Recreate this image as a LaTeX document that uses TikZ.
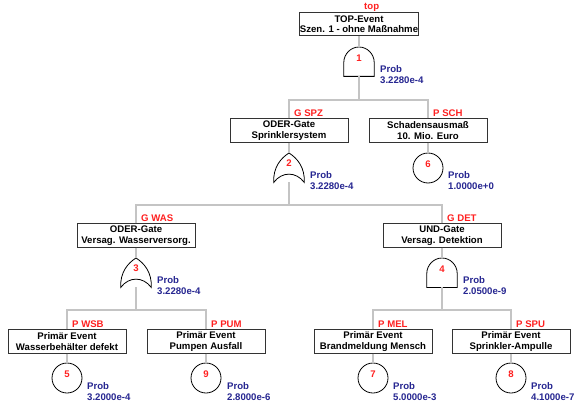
\documentclass[tikz,border=0pt]{standalone}
\usepackage{fontspec}
\setmainfont{Liberation Sans}
\definecolor{lblred}{RGB}{255,32,32}
\definecolor{prbblue}{RGB}{38,38,145}
\definecolor{wiregray}{RGB}{196,196,196}
\tikzset{
  ev/.style={draw=black!80, line width=0.8pt, fill=white, minimum width=118pt,
    minimum height=23.5pt, inner sep=0pt, align=center,
    font=\fontsize{9.6}{10.5}\selectfont\bfseries},
  lab/.style={text=lblred, anchor=base west, inner sep=0pt,
    font=\fontsize{9.6}{10.5}\selectfont\bfseries},
  prob/.style={text=prbblue, anchor=north west, align=left, inner sep=0pt,
    font=\fontsize{9.6}{11.2}\selectfont\bfseries},
  num/.style={text=lblred, inner sep=0pt,
    font=\fontsize{9.6}{10.5}\selectfont\bfseries},
  wire/.style={draw=wiregray, line width=1.4pt},
  gatebox/.style={minimum width=30pt, minimum height=29pt, inner sep=0pt},
  gateline/.style={draw=black, line width=0.8pt, fill=white},
  primcirc/.style={circle, draw=black, line width=0.8pt, fill=white,
    minimum size=30pt, inner sep=0pt},
}
\newcommand\andgate[3]{%
  \node[gatebox, anchor=north] (#1) at (#2,#3) {};
  \draw[gateline] (#1.south west) -- ([yshift=14pt]#1.south west)
    .. controls ([yshift=22.3pt]#1.south west) and ([xshift=-8.3pt]#1.north) .. (#1.north)
    .. controls ([xshift=8.3pt]#1.north) and ([yshift=22.3pt]#1.south east) .. ([yshift=14pt]#1.south east)
    -- (#1.south east) -- cycle;
}
\newcommand\orgate[3]{%
  \node[gatebox, anchor=north] (#1) at (#2,#3) {};
  \draw[gateline] (#1.south west)
    .. controls ([xshift=8pt,yshift=11pt]#1.south west) and ([xshift=-8pt,yshift=11pt]#1.south east) .. (#1.south east)
    .. controls ([xshift=1pt,yshift=15pt]#1.south east) and ([xshift=8pt,yshift=-5pt]#1.north) .. (#1.north)
    .. controls ([xshift=-8pt,yshift=-5pt]#1.north) and ([xshift=-1pt,yshift=15pt]#1.south west) .. (#1.south west)
    -- cycle;
}
\begin{document}
\begin{tikzpicture}[x=1pt,y=-1pt]
\fill[white] (0,0) rectangle (575,401);
\useasboundingbox (0,0) rectangle (575,401);

% ---------- level 0 ----------
\node[ev] (top) at (359,24) {TOP-Event\\Szen. 1 - ohne Maßnahme};
\node[lab] (ltop) at (364,9.8) {top};
\andgate{g1}{359}{47}
\node[num] (n1) at (359,58) {1};
\node[prob] (p1) at (380,65.5) {Prob\\3.2280e-4};
\coordinate (bar1) at (359,100);

% ---------- level 1 ----------
\node[ev] (spz) at (289,130.5) {ODER-Gate\\Sprinklersystem};
\node[lab] (lspz) at (294,116.3) {G SPZ};
\node[ev] (sch) at (428,130.5) {Schadensausmaß\\10. Mio. Euro};
\node[lab] (lsch) at (433,116.3) {P SCH};
\orgate{g2}{289}{153}
\node[num] (n2) at (289,163) {2};
\node[prob] (p2) at (310,171.5) {Prob\\3.2280e-4};
\node[primcirc] (c6) at (428,168) {};
\node[num] (n6) at (428,164) {6};
\node[prob] (p6) at (448,171.5) {Prob\\1.0000e+0};
\coordinate (bar2) at (289,205);

% ---------- level 2 ----------
\node[ev] (was) at (136,235.5) {ODER-Gate\\Versag. Wasserversorg.};
\node[lab] (lwas) at (141,221.3) {G WAS};
\node[ev] (det) at (442,235.5) {UND-Gate\\Versag. Detektion};
\node[lab] (ldet) at (447,221.3) {G DET};
\orgate{g3}{136}{258}
\node[num] (n3) at (136,268) {3};
\node[prob] (p3) at (157,276.5) {Prob\\3.2280e-4};
\andgate{g4}{442}{258}
\node[num] (n4) at (442,269) {4};
\node[prob] (p4) at (463,276.5) {Prob\\2.0500e-9};
\coordinate (bar3) at (136,310);
\coordinate (bar4) at (442,310);

% ---------- level 3 ----------
\node[ev] (wsb) at (67,341.5) {Primär Event\\Wasserbehälter defekt};
\node[lab] (lwsb) at (72,327.3) {P WSB};
\node[ev] (pum) at (206,341.5) {Primär Event\\Pumpen Ausfall};
\node[lab] (lpum) at (211,327.3) {P PUM};
\node[ev] (mel) at (373,341.5) {Primär Event\\Brandmeldung Mensch};
\node[lab] (lmel) at (378,327.3) {P MEL};
\node[ev] (spu) at (511,341.5) {Primär Event\\Sprinkler-Ampulle};
\node[lab] (lspu) at (516,327.3) {P SPU};

\node[primcirc] (c5) at (67,378) {};
\node[num] (n5) at (67,374) {5};
\node[prob] (p5) at (87,382) {Prob\\3.2000e-4};
\node[primcirc] (c9) at (206,378) {};
\node[num] (n9) at (206,374) {9};
\node[prob] (p9) at (227,382) {Prob\\2.8000e-6};
\node[primcirc] (c7) at (373,378) {};
\node[num] (n7) at (373,374) {7};
\node[prob] (p7) at (393,382) {Prob\\5.0000e-3};
\node[primcirc] (c8) at (511,378) {};
\node[num] (n8) at (511,374) {8};
\node[prob] (p8) at (531,382) {Prob\\4.1000e-7};

% ---------- connectors ----------
\draw[wire] (top) -- (g1.north);
\draw[wire] (g1.south) -- (bar1);
\draw[wire] (spz.north) |- (bar1);
\draw[wire] (sch.north) |- (bar1);
\draw[wire] (spz) -- (g2.north);
\draw[wire] (sch) -- (c6);
\draw[wire] (g2.south) -- (bar2);
\draw[wire] (was.north) |- (bar2);
\draw[wire] (det.north) |- (bar2);
\draw[wire] (was) -- (g3.north);
\draw[wire] (det) -- (g4.north);
\draw[wire] (g3.south) -- (bar3);
\draw[wire] (g4.south) -- (bar4);
\draw[wire] (wsb.north) |- (bar3);
\draw[wire] (pum.north) |- (bar3);
\draw[wire] (mel.north) |- (bar4);
\draw[wire] (spu.north) |- (bar4);
\draw[wire] (wsb) -- (c5);
\draw[wire] (pum) -- (c9);
\draw[wire] (mel) -- (c7);
\draw[wire] (spu) -- (c8);
\end{tikzpicture}
\end{document}
